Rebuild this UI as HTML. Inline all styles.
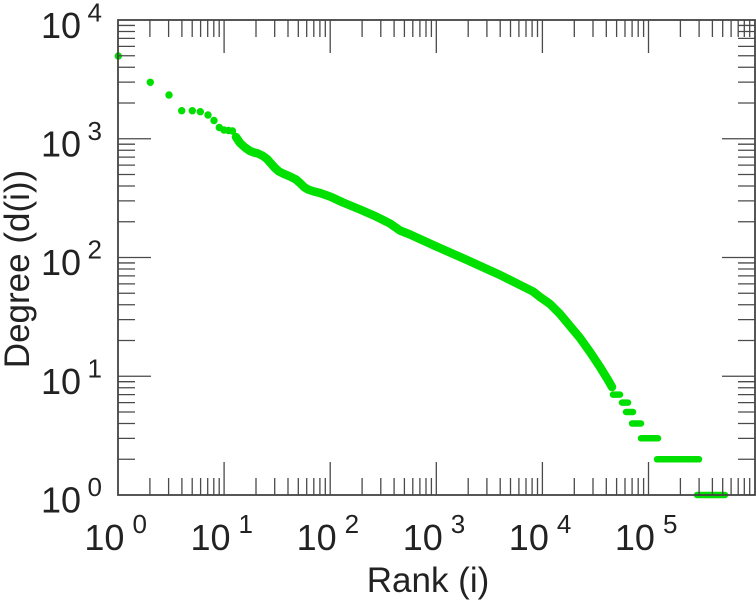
<!DOCTYPE html>
<html>
<head>
<meta charset="utf-8">
<style>
  html,body{margin:0;padding:0;background:#fff;}
  svg{display:block;}
  text{font-family:"Liberation Sans",Arial,sans-serif;fill:#222;}
</style>
</head>
<body>
<svg width="756" height="600" viewBox="0 0 756 600" xmlns="http://www.w3.org/2000/svg">
  <rect width="756" height="600" fill="#fff"/>

  <!-- data -->
  <g fill="#00e000">
    <circle cx="118.3" cy="56" r="3.7"/>
    <circle cx="150.3" cy="82.3" r="3.7"/>
    <circle cx="169" cy="95" r="3.7"/>
    <circle cx="181.7" cy="110.7" r="3.7"/>
    <circle cx="192.3" cy="110.7" r="3.7"/>
    <circle cx="200.3" cy="111.7" r="3.7"/>
    <circle cx="208" cy="115" r="3.7"/>
    <circle cx="214" cy="120.5" r="3.7"/>
    <circle cx="219.3" cy="127.5" r="3.7"/>
    <circle cx="224" cy="130" r="3.7"/>
    <circle cx="228.5" cy="130.5" r="3.7"/>
    <circle cx="232.5" cy="131" r="3.7"/>
  </g>
  <polyline fill="none" stroke="#00e000" stroke-width="8.5" stroke-linecap="round" stroke-linejoin="round"
    points="236,137 240,143 245,147.5 250,151 254,152.5 258,153.5 263,156 267,159 271,163.5 275,168 279,171.5 283,173.5 290,176.5 296,179.5 300,183 304,187 308,189.5 314,191.5 320,193 330,196.5 343,202.5 360,209.5 375,216 390,223.5 400,230.5 410,234.5 433,245 467,260 500,275 522,286 533,291.5 540,297 550,304 560,314 570,326 580,338 590,352 600,367 608,380 612,387"/>
  <g stroke="#00e000" stroke-width="6.5" stroke-linecap="round">
    <line x1="613" y1="394.6" x2="620" y2="394.6"/>
    <line x1="622" y1="402.6" x2="628" y2="402.6"/>
    <line x1="626" y1="412" x2="633" y2="412"/>
    <line x1="632" y1="423.5" x2="641" y2="423.5"/>
    <line x1="641" y1="438.3" x2="658" y2="438.3"/>
    <line x1="657" y1="459.3" x2="699" y2="459.3"/>
    <line x1="697" y1="495" x2="725" y2="495"/>
  </g>

  <!-- ticks -->
  <g stroke="#4a4a4a" stroke-width="1.3" fill="none">
    <path d="M149.9 495v-17M168.6 495v-17M181.9 495v-17M192.2 495v-17M200.6 495v-17M207.7 495v-17M213.8 495v-17M219.2 495v-17
             M256 495v-17M274.7 495v-17M288 495v-17M298.3 495v-17M306.7 495v-17M313.8 495v-17M319.9 495v-17M325.3 495v-17
             M362.1 495v-17M380.8 495v-17M394.1 495v-17M404.4 495v-17M412.8 495v-17M419.9 495v-17M426 495v-17M431.4 495v-17
             M468.2 495v-17M486.9 495v-17M500.2 495v-17M510.5 495v-17M518.9 495v-17M526 495v-17M532.1 495v-17M537.5 495v-17
             M574.3 495v-17M593 495v-17M606.3 495v-17M616.6 495v-17M625 495v-17M632.1 495v-17M638.2 495v-17M643.6 495v-17
             M680.4 495v-17M699.1 495v-17M712.4 495v-17M722.7 495v-17M731.1 495v-17M738.2 495v-17M744.3 495v-17M749.7 495v-17"/>
    <path d="M224.1 495v-33M330.2 495v-33M436.3 495v-33M542.4 495v-33M648.5 495v-33"/>
    <path d="M149.9 20v17M168.6 20v17M181.9 20v17M192.2 20v17M200.6 20v17M207.7 20v17M213.8 20v17M219.2 20v17
             M256 20v17M274.7 20v17M288 20v17M298.3 20v17M306.7 20v17M313.8 20v17M319.9 20v17M325.3 20v17
             M362.1 20v17M380.8 20v17M394.1 20v17M404.4 20v17M412.8 20v17M419.9 20v17M426 20v17M431.4 20v17
             M468.2 20v17M486.9 20v17M500.2 20v17M510.5 20v17M518.9 20v17M526 20v17M532.1 20v17M537.5 20v17
             M574.3 20v17M593 20v17M606.3 20v17M616.6 20v17M625 20v17M632.1 20v17M638.2 20v17M643.6 20v17
             M680.4 20v17M699.1 20v17M712.4 20v17M722.7 20v17M731.1 20v17M738.2 20v17M744.3 20v17M749.7 20v17"/>
    <path d="M224.1 20v33M330.2 20v33M436.3 20v33M542.4 20v33M648.5 20v33"/>
    <path d="M118 459.25h17M118 438.34h17M118 423.51h17M118 412h17M118 402.59h17M118 394.64h17M118 387.76h17M118 381.68h17
             M118 340.5h17M118 319.59h17M118 304.76h17M118 293.25h17M118 283.84h17M118 275.89h17M118 269.01h17M118 262.93h17
             M118 221.75h17M118 200.84h17M118 186.01h17M118 174.5h17M118 165.09h17M118 157.14h17M118 150.26h17M118 144.18h17
             M118 103h17M118 82.09h17M118 67.26h17M118 55.75h17M118 46.34h17M118 38.39h17M118 31.51h17M118 25.43h17"/>
    <path d="M118 376.25h33M118 257.5h33M118 138.75h33"/>
    <path d="M755 459.25h-17M755 438.34h-17M755 423.51h-17M755 412h-17M755 402.59h-17M755 394.64h-17M755 387.76h-17M755 381.68h-17
             M755 340.5h-17M755 319.59h-17M755 304.76h-17M755 293.25h-17M755 283.84h-17M755 275.89h-17M755 269.01h-17M755 262.93h-17
             M755 221.75h-17M755 200.84h-17M755 186.01h-17M755 174.5h-17M755 165.09h-17M755 157.14h-17M755 150.26h-17M755 144.18h-17
             M755 103h-17M755 82.09h-17M755 67.26h-17M755 55.75h-17M755 46.34h-17M755 38.39h-17M755 31.51h-17M755 25.43h-17"/>
    <path d="M755 376.25h-33M755 257.5h-33M755 138.75h-33"/>
  </g>

  <!-- frame -->
  <rect x="118" y="20" width="637" height="475" fill="none" stroke="#444" stroke-width="1.8"/>

  <!-- y tick labels -->
  <g font-size="36">
    <text x="41" y="38">10<tspan font-size="26" dx="6.5" dy="-16.5">4</tspan></text>
    <text x="41" y="156.5">10<tspan font-size="26" dx="6.5" dy="-16.5">3</tspan></text>
    <text x="41" y="275">10<tspan font-size="26" dx="6.5" dy="-16.5">2</tspan></text>
    <text x="41" y="394">10<tspan font-size="26" dx="6.5" dy="-16.5">1</tspan></text>
    <text x="41" y="512.5">10<tspan font-size="26" dx="6.5" dy="-16.5">0</tspan></text>
  </g>

  <!-- x tick labels -->
  <g font-size="36">
    <text x="84.4" y="550">10<tspan font-size="26" dx="8" dy="-17">0</tspan></text>
    <text x="190.5" y="550">10<tspan font-size="26" dx="8" dy="-17">1</tspan></text>
    <text x="296.6" y="550">10<tspan font-size="26" dx="8" dy="-17">2</tspan></text>
    <text x="402.7" y="550">10<tspan font-size="26" dx="8" dy="-17">3</tspan></text>
    <text x="508.8" y="550">10<tspan font-size="26" dx="8" dy="-17">4</tspan></text>
    <text x="614.9" y="550">10<tspan font-size="26" dx="8" dy="-17">5</tspan></text>
  </g>

  <!-- axis titles -->
  <text x="428" y="592" font-size="35" text-anchor="middle">Rank (i)</text>
  <text x="0" y="0" font-size="35" text-anchor="middle" transform="translate(29,269) rotate(-90)">Degree (d(i))</text>
</svg>
</body>
</html>
